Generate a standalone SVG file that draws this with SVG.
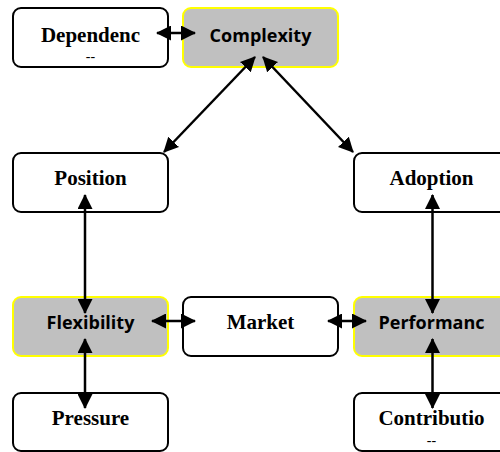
<svg xmlns="http://www.w3.org/2000/svg" width="500" height="452" viewBox="0 0 500 452">
  <style>
    .box { fill: #ffffff; stroke: #000000; stroke-width: 2; }
    .hl { fill: #c0c0c0; stroke: #ffff00; stroke-width: 2; }
    .serif { font-family: "Liberation Serif", "Times New Roman", serif; font-weight: bold; font-size: 21px; fill: #000; text-anchor: middle; }
    .sans { font-family: "Open Sans", "Liberation Sans", sans-serif; font-weight: bold; font-size: 18px; fill: #000; text-anchor: middle; }
    .sub { font-family: "Liberation Serif", "Times New Roman", serif; font-size: 14px; fill: #000; text-anchor: middle; }
    .link { stroke: #000; stroke-width: 2.5; fill: none; marker-start: url(#head); marker-end: url(#head); }
  </style>
  <defs>
    <!-- shared filled arrowhead, used at both ends of every connector -->
    <marker id="head" markerUnits="userSpaceOnUse" markerWidth="15" markerHeight="15" viewBox="0 0 15 15" refX="14" refY="7.5" orient="auto-start-reverse">
      <path d="M0,0 L15,7.5 L0,15 z" fill="#000"/>
    </marker>
  </defs>

  <g id="dependency">
    <rect class="box" x="13" y="8" width="155" height="59" rx="8"/>
    <text class="serif" x="90.5" y="42">Dependenc</text>
    <text class="sub" x="90.5" y="61">--</text>
  </g>
  <g id="complexity">
    <rect class="hl" x="183" y="8" width="155" height="59" rx="8"/>
    <text class="sans" x="260.5" y="42">Complexity</text>
  </g>
  <g id="position">
    <rect class="box" x="13" y="153" width="155" height="59" rx="8"/>
    <text class="serif" x="90.5" y="185">Position</text>
  </g>
  <g id="adoption">
    <rect class="box" x="354" y="153" width="155" height="59" rx="8"/>
    <text class="serif" x="431.5" y="185">Adoption</text>
  </g>
  <g id="flexibility">
    <rect class="hl" x="13" y="297" width="155" height="59" rx="8"/>
    <text class="sans" x="90.5" y="329">Flexibility</text>
  </g>
  <g id="market">
    <rect class="box" x="183" y="297" width="155" height="59" rx="8"/>
    <text class="serif" x="260.5" y="329">Market</text>
  </g>
  <g id="performance">
    <rect class="hl" x="354" y="297" width="155" height="59" rx="8"/>
    <text class="sans" x="431.5" y="329">Performanc</text>
  </g>
  <g id="pressure">
    <rect class="box" x="13" y="393" width="155" height="58" rx="8"/>
    <text class="serif" x="90.5" y="425">Pressure</text>
  </g>
  <g id="contribution">
    <rect class="box" x="354" y="393" width="155" height="58" rx="8"/>
    <text class="serif" x="431.5" y="425">Contributio</text>
    <text class="sub" x="431.5" y="445">--</text>
  </g>

  <g id="connectors">
    <line class="link" x1="157" y1="33" x2="195" y2="33"/>
    <line class="link" x1="255" y1="57" x2="164" y2="152"/>
    <line class="link" x1="263" y1="57" x2="353" y2="152"/>
    <line class="link" x1="85" y1="195" x2="85" y2="313"/>
    <line class="link" x1="432.5" y1="195" x2="432.5" y2="313"/>
    <line class="link" x1="152" y1="321" x2="195" y2="321"/>
    <line class="link" x1="328" y1="321" x2="366" y2="321"/>
    <line class="link" x1="85" y1="339" x2="85" y2="408"/>
    <line class="link" x1="432.5" y1="339" x2="432.5" y2="408"/>
  </g>
</svg>
